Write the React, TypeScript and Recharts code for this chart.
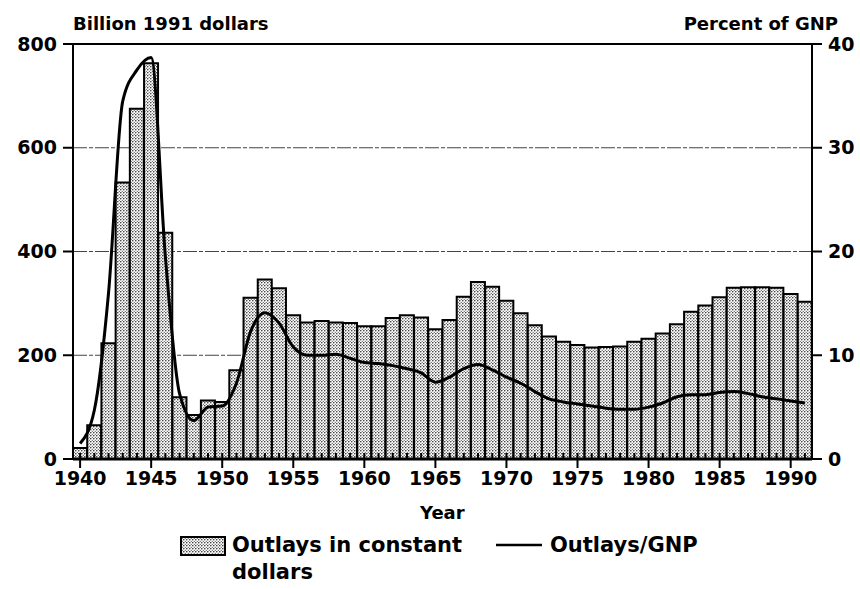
import React from 'react';
import { ComposedChart, Bar, Line, XAxis, YAxis, CartesianGrid, ReferenceLine } from 'recharts';

const years = [
  1940, 1941, 1942, 1943, 1944, 1945, 1946, 1947, 1948, 1949,
  1950, 1951, 1952, 1953, 1954, 1955, 1956, 1957, 1958, 1959,
  1960, 1961, 1962, 1963, 1964, 1965, 1966, 1967, 1968, 1969,
  1970, 1971, 1972, 1973, 1974, 1975, 1976, 1977, 1978, 1979,
  1980, 1981, 1982, 1983, 1984, 1985, 1986, 1987, 1988, 1989,
  1990, 1991,
];

// billion 1991 dollars
const outlays = [
  21, 65, 223, 533, 675, 763, 436, 119, 85, 113,
  110, 171, 311, 346, 329, 277, 263, 266, 263, 262,
  256, 256, 272, 277, 273, 250, 268, 313, 341, 332,
  305, 281, 258, 236, 226, 220, 215, 216, 217, 226,
  232, 242, 260, 284, 296, 312, 330, 331, 331, 330,
  318, 303,
];

// percent of GNP
const pctGnp = [
  1.5, 4.7, 16, 34.5, 37.5, 38.7, 19.5, 6.3, 3.7, 5.0,
  5.1, 7.3, 12.3, 14.1, 13.1, 10.8, 10.0, 10.0, 10.1, 9.7,
  9.3, 9.2, 9.0, 8.7, 8.3, 7.4, 7.9, 8.7, 9.1, 8.6,
  7.9, 7.3, 6.5, 5.8, 5.5, 5.3, 5.1, 4.9, 4.8, 4.8,
  5.0, 5.4, 6.0, 6.2, 6.2, 6.4, 6.5, 6.3, 6.0, 5.8,
  5.6, 5.4,
];

const leftTicks = [0, 200, 400, 600, 800];
const rightTicks = [0, 10, 20, 30, 40];

const data = years.map((year, i) => ({ year, outlays: outlays[i], gnp: pctGnp[i] }));

const font = '"DejaVu Sans", sans-serif';
const tickStyle = { fontFamily: font, fontWeight: 700, fontSize: 19, fill: '#000' };

function YearTick(props: any) {
  const { x, y, payload } = props;
  const yr = payload.value;
  const major = yr % 5 === 0;
  return (
    <g>
      <line x1={x} x2={x} y1={y} y2={y - 6} stroke="#000" strokeWidth={2} />
      {major && (
        <>
          <line x1={x} x2={x} y1={y} y2={y + 9} stroke="#000" strokeWidth={2} />
          <text x={x} y={y + 26} textAnchor="middle" {...tickStyle}>{yr}</text>
        </>
      )}
    </g>
  );
}

function Stipple() {
  return (
    <pattern id="stipple" width={3} height={3} patternUnits="userSpaceOnUse">
      <rect width={3} height={3} fill="#fff" />
      <circle cx={0.8} cy={0.8} r={0.8} fill="#222" />
      <circle cx={2.3} cy={2.3} r={0.65} fill="#555" />
    </pattern>
  );
}

const label: React.CSSProperties = {
  position: 'absolute',
  fontFamily: font,
  fontWeight: 700,
  fontSize: 18,
  color: '#000',
  whiteSpace: 'nowrap',
  lineHeight: '20px',
};

const legendText: React.CSSProperties = { ...label, fontSize: 21, lineHeight: '24px' };

export default function App() {
  return (
    <div style={{ position: 'absolute', left: 0, top: 0, width: 860, height: 589, background: '#fff' }}>
      <ComposedChart
        width={860}
        height={589}
        data={data}
        margin={{ top: 44, right: 0, bottom: 100, left: 0 }}
        barCategoryGap={0}
      >
        <defs>
          <Stipple />
        </defs>
        <CartesianGrid yAxisId="left" vertical={false} stroke="#444" strokeWidth={1.2} strokeDasharray="14 2 4 2" />
        <XAxis
          dataKey="year"
          height={30}
          interval={0}
          tickSize={0}
          tickMargin={0}
          tick={<YearTick />}
          axisLine={{ stroke: '#000', strokeWidth: 3 }}
        />
        <YAxis
          yAxisId="left"
          width={73}
          domain={[0, 800]}
          ticks={leftTicks}
          tickSize={10}
          tickMargin={6}
          tick={tickStyle}
          axisLine={{ stroke: '#000', strokeWidth: 2 }}
          tickLine={{ stroke: '#000', strokeWidth: 2 }}
        />
        <YAxis
          yAxisId="right"
          orientation="right"
          width={48}
          domain={[0, 40]}
          ticks={rightTicks}
          tickSize={10}
          tickMargin={6}
          tick={tickStyle}
          axisLine={{ stroke: '#000', strokeWidth: 2 }}
          tickLine={{ stroke: '#000', strokeWidth: 2 }}
        />
        <ReferenceLine yAxisId="left" y={800} stroke="#000" strokeWidth={2} />
        <Bar
          yAxisId="left"
          dataKey="outlays"
          fill="url(#stipple)"
          stroke="#000"
          strokeWidth={2}
          isAnimationActive={false}
        />
        <Line
          yAxisId="right"
          dataKey="gnp"
          type="monotone"
          stroke="#000"
          strokeWidth={3}
          dot={false}
          isAnimationActive={false}
        />
      </ComposedChart>

      <div style={{ ...label, left: 73, top: 14 }}>Billion 1991 dollars</div>
      <div style={{ ...label, right: 22, top: 14 }}>Percent of GNP</div>
      <div style={{ ...label, left: 420, top: 503 }}>Year</div>

      <svg style={{ position: 'absolute', left: 180, top: 536 }} width={48} height={22}>
        <rect x={1} y={1} width={44} height={18} fill="url(#stipple)" stroke="#000" strokeWidth={2} />
      </svg>
      <div style={{ ...legendText, left: 232, top: 533 }}>Outlays in constant</div>
      <div style={{ ...legendText, left: 232, top: 560 }}>dollars</div>

      <svg style={{ position: 'absolute', left: 496, top: 536 }} width={48} height={20}>
        <line x1={0} x2={46} y1={9} y2={9} stroke="#000" strokeWidth={2.5} />
      </svg>
      <div style={{ ...legendText, left: 550, top: 533 }}>Outlays/GNP</div>
    </div>
  );
}
